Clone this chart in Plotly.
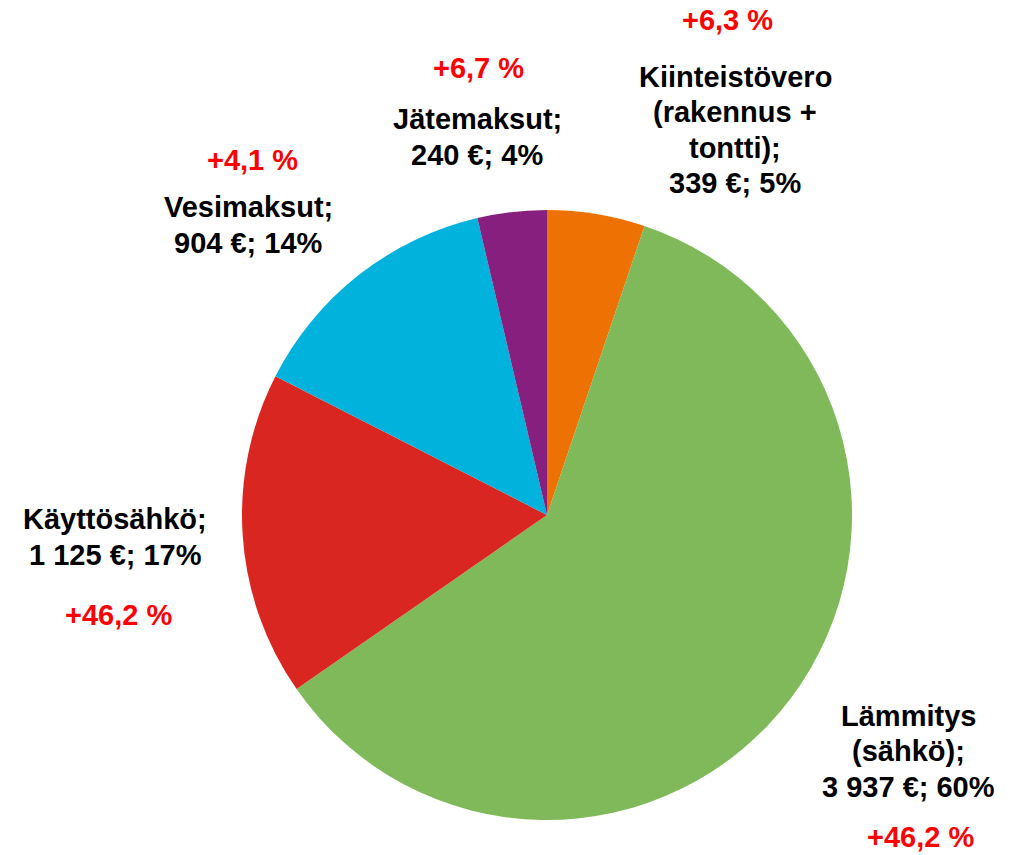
import plotly.graph_objects as go

# Data
names = ["Kiinteistövero<br>(rakennus +<br>tontti)", "Lämmitys<br>(sähkö)", "Käyttösähkö",
         "Vesimaksut", "Jätemaksut"]
values = [339, 3937, 1125, 904, 240]
changes = ["+6,3 %", "+46,2 %", "+46,2 %", "+4,1 %", "+6,7 %"]
colors = ["#EE7203", "#7FB95A", "#DA2620", "#00B2DC", "#861F7E"]

W, H = 1018, 855
# label block centers (pixels) and change label centers (pixels)
label_pos = [(735, 130), (908, 751), (115, 537), (248, 225), (477, 137)]
change_pos = [(727, 20), (920, 837), (118, 615), (252, 160), (478, 68)]
LINE = 35.5
FS = 29

total = sum(values)


def fmt(v):
    return f"{v:,}".replace(",", " ")


fig = go.Figure(go.Pie(
    values=values,
    labels=[n.replace("<br>", " ") for n in names],
    sort=False,
    direction="clockwise",
    rotation=0,
    textinfo="none",
    hoverinfo="none",
    marker=dict(colors=colors, line=dict(width=0)),
    showlegend=False,
    domain=dict(x=[242 / W, 852 / W], y=[1 - 820 / H, 1 - 210 / H]),
))

font_face = "Liberation Sans, Arial, sans-serif"
for n, v, c, (lx, ly), (cx, cy) in zip(names, values, changes, label_pos, change_pos):
    pct = round(v / total * 100)
    lines = f"{n};<br>{fmt(v)} €; {pct}%".split("<br>")
    y0 = ly - LINE * (len(lines) - 1) / 2
    for i, ln in enumerate(lines):
        fig.add_annotation(text=f"<b>{ln}</b>", x=lx / W, y=1 - (y0 + i * LINE) / H,
                           xref="paper", yref="paper", xanchor="center", yanchor="middle",
                           showarrow=False,
                           font=dict(family=font_face, size=FS, color="#000000"))
    fig.add_annotation(text=f"<b>{c}</b>", x=cx / W, y=1 - cy / H, xref="paper", yref="paper",
                       xanchor="center", yanchor="middle", showarrow=False,
                       font=dict(family=font_face, size=FS, color="#FF0000"))

fig.update_layout(width=W, height=H, margin=dict(l=0, r=0, t=0, b=0),
                  paper_bgcolor="white", plot_bgcolor="white")

fig.write_html("out.html", config={"displayModeBar": False},
               post_script="document.body.style.margin='0';")
